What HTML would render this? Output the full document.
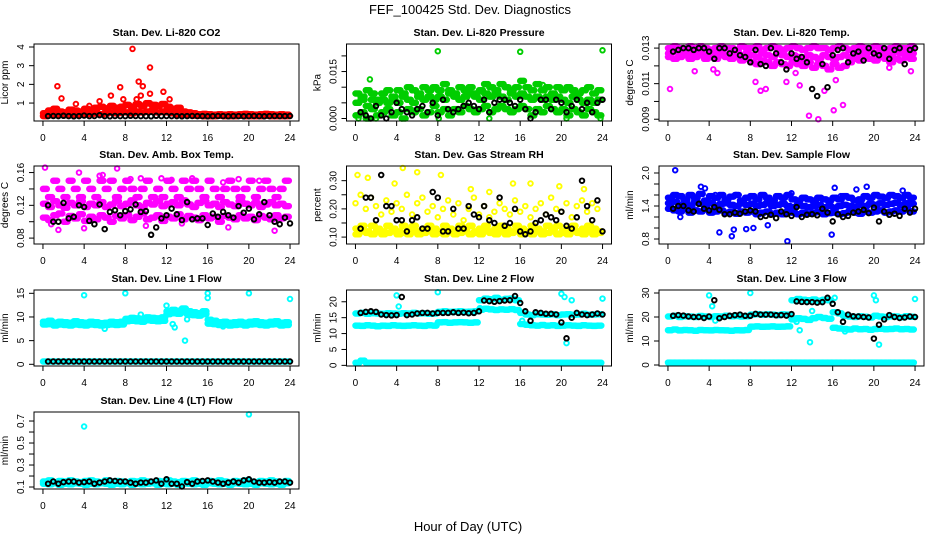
<!DOCTYPE html>
<html><head><meta charset="utf-8"><title>FEF_100425 Std. Dev. Diagnostics</title>
<style>
html,body{margin:0;padding:0;background:#fff;}
svg{display:block;font-family:"Liberation Sans",Arial,sans-serif;}
</style></head>
<body>
<svg id="chart" width="936" height="540" viewBox="0 0 936 540" xmlns="http://www.w3.org/2000/svg">
<rect x="0" y="0" width="936" height="540" fill="#fff"/>
<text x="470" y="14" font-size="13" text-anchor="middle">FEF_100425  Std. Dev. Diagnostics</text>
<text x="468" y="531" font-size="13" text-anchor="middle">Hour of Day (UTC)</text>
</svg>
<script>
const HOURS=[0,0.5,1,1.5,2,2.5,3,3.5,4,4.5,5,5.5,6,6.5,7,7.5,8,8.5,9,9.5,10,10.5,11,11.5,12,12.5,13,13.5,14,14.5,15,15.5,16,16.5,17,17.5,18,18.5,19,19.5,20,20.5,21,21.5,22,22.5,23,23.5];
const HOURS_B=[0.5,1,1.5,2,2.5,3,3.5,4,4.5,5,5.5,6,6.5,7,7.5,8,8.5,9,9.5,10,10.5,11,11.5,12,12.5,13,13.5,14,14.5,15,15.5,16,16.5,17,17.5,18,18.5,19,19.5,20,20.5,21,21.5,22,22.5,23,23.5,24];
const X_TICKS=[0,4,8,12,16,20,24];

// Li-820 CO2
const co2Hi=[0.45,0.6,0.7,0.55,0.5,0.65,0.6,0.55,0.7,0.65,0.75,0.8,0.7,0.85,0.75,0.8,0.9,0.8,0.95,0.85,1.0,0.9,0.85,0.95,0.8,0.7,0.75,0.55,0.5,0.45,0.4,0.42,0.4,0.38,0.4,0.38,0.4,0.38,0.4,0.42,0.4,0.38,0.4,0.42,0.4,0.38,0.4,0.38];
const co2Lo=[0.3,0.35,0.35,0.4,0.35,0.38,0.4,0.38,0.4,0.42,0.45,0.4,0.45,0.5,0.45,0.5,0.5,0.45,0.55,0.5,0.55,0.6,0.5,0.55,0.5,0.45,0.4,0.38,0.35,0.33,0.32,0.3,0.3,0.3,0.32,0.3,0.3,0.3,0.32,0.3,0.3,0.3,0.3,0.32,0.3,0.3,0.3,0.3];
const co2OutX=[1.4,1.8,3.2,5.5,6.6,7.5,7.8,8.7,9.1,9.3,9.5,9.7,10.4,10.4,11.7,12.3,4.5,6.0,11.0];
const co2OutY=[1.9,1.25,0.95,1.1,1.4,1.85,1.2,3.9,1.2,2.15,1.4,1.9,2.9,1.5,1.6,1.2,0.85,0.75,0.9];
const co2Black=[0.3,0.31,0.3,0.32,0.3,0.29,0.3,0.33,0.3,0.31,0.35,0.3,0.29,0.31,0.3,0.3,0.32,0.31,0.3,0.3,0.29,0.32,0.3,0.31,0.3,0.3,0.29,0.3,0.31,0.3,0.3,0.29,0.3,0.31,0.3,0.29,0.3,0.3,0.29,0.3,0.31,0.3,0.29,0.3,0.31,0.3,0.3,0.31];

// Li-820 Pressure
const pHi=[0.008,0.007,0.009,0.008,0.006,0.008,0.009,0.007,0.009,0.008,0.010,0.009,0.008,0.010,0.009,0.010,0.009,0.011,0.009,0.008,0.010,0.009,0.010,0.008,0.009,0.011,0.010,0.009,0.011,0.010,0.009,0.010,0.012,0.010,0.009,0.011,0.009,0.010,0.008,0.010,0.009,0.010,0.009,0.008,0.009,0.010,0.008,0.009];
const pMid=[0.005,0.006,0.004,0.006,0.005,0.006,0.005,0.006,0.005,0.007,0.006,0.005,0.007,0.006,0.007,0.006,0.007,0.006,0.008,0.007,0.006,0.007,0.008,0.007,0.006,0.008,0.007,0.008,0.007,0.006,0.008,0.007,0.008,0.007,0.006,0.007,0.006,0.007,0.006,0.007,0.006,0.005,0.007,0.006,0.005,0.006,0.005,0.006];
const pLo=[0.001,0.002,0.000,0.003,0.001,0.002,0.003,0.001,0.002,0.000,0.003,0.002,0.003,0.001,0.002,0.004,0.002,0.003,0.001,0.003,0.002,0.004,0.003,0.002,0.003,0.004,0.002,0.003,0.004,0.003,0.002,0.003,0.004,0.003,0.001,0.003,0.002,0.004,0.003,0.002,0.003,0.001,0.003,0.002,0.001,0.003,0.002,0.001];
const pOutX=[8,16,24,1.4,18.2,0.3,2,4.5,8.1,13,20.5,23.8];
const pOutY=[0.0215,0.0213,0.0218,0.0125,0.0107,0.0,0.0,0.0,0.0,0.0,0.0,0.0];
const pBlack=[0.002,0.001,0.000,0.004,0.001,0.000,0.002,0.005,0.003,0.002,0.001,0.003,0.004,0.002,0.005,0.001,0.006,0.003,0.002,0.003,0.004,0.005,0.004,0.003,0.006,0.002,0.005,0.006,0.006,0.005,0.004,0.006,0.003,0.000,0.002,0.006,0.006,0.003,0.006,0.005,0.002,0.004,0.006,0.003,0.005,0.002,0.005,0.006];

// Li-820 Temp
const tTop=[0.0130,0.0131,0.0130,0.0129,0.0131,0.0130,0.0131,0.0130,0.0129,0.0130,0.0131,0.0130,0.0130,0.0129,0.0131,0.0130,0.0130,0.0131,0.0129,0.0130,0.0131,0.0130,0.0129,0.0130,0.0131,0.0130,0.0129,0.0130,0.0131,0.0130,0.0130,0.0129,0.0130,0.0131,0.0130,0.0129,0.0130,0.0131,0.0130,0.0130,0.0131,0.0130,0.0129,0.0130,0.0131,0.0130,0.0130,0.0131];
const tMid=[0.0127,0.0128,0.0126,0.0128,0.0127,0.0128,0.0127,0.0126,0.0128,0.0127,0.0128,0.0126,0.0127,0.0128,0.0126,0.0127,0.0126,0.0125,0.0127,0.0126,0.0125,0.0127,0.0126,0.0125,0.0126,0.0125,0.0124,0.0126,0.0125,0.0124,0.0126,0.0125,0.0124,0.0125,0.0126,0.0125,0.0127,0.0126,0.0127,0.0128,0.0127,0.0128,0.0127,0.0126,0.0128,0.0127,0.0128,0.0127];
const tLo=[0.0125,0.0124,0.0125,0.0126,0.0124,0.0125,0.0126,0.0124,0.0125,0.0124,0.0126,0.0125,0.0124,0.0125,0.0123,0.0124,0.0122,0.0121,0.0123,0.0122,0.0120,0.0122,0.0121,0.0120,0.0122,0.0121,0.0120,0.0122,0.0119,0.0121,0.0120,0.0118,0.0121,0.0119,0.0120,0.0122,0.0124,0.0123,0.0125,0.0124,0.0123,0.0125,0.0124,0.0122,0.0124,0.0123,0.0125,0.0124];
const tOutX=[0.2,2.6,4.4,4.8,8.5,9.0,9.5,11.5,12.4,12.8,13.7,14.6,15.2,16.1,16.3,17.0,23.6,21.5];
const tOutY=[0.0107,0.0117,0.0118,0.0116,0.0111,0.0106,0.0107,0.0111,0.0116,0.0109,0.0092,0.0090,0.0106,0.0095,0.0112,0.0098,0.0117,0.0119];
const tBlack=[0.0128,0.0129,0.0130,0.0130,0.0129,0.0130,0.0130,0.0128,0.0124,0.0130,0.0130,0.0127,0.0129,0.0126,0.0125,0.0122,0.0129,0.0121,0.0120,0.0130,0.0127,0.0122,0.0118,0.0127,0.0124,0.0125,0.0122,0.0107,0.0103,0.0121,0.0108,0.0126,0.0129,0.0130,0.0122,0.0127,0.0128,0.0123,0.0130,0.0127,0.0126,0.0130,0.0124,0.0129,0.0130,0.0121,0.0129,0.0130];

// Amb. Box Temp
const aHi=[0.14,0.13,0.15,0.14,0.13,0.15,0.14,0.13,0.15,0.14,0.13,0.15,0.14,0.15,0.13,0.14,0.15,0.14,0.13,0.14,0.15,0.13,0.14,0.13,0.15,0.14,0.13,0.15,0.14,0.15,0.14,0.13,0.15,0.14,0.13,0.14,0.15,0.14,0.13,0.14,0.15,0.13,0.14,0.15,0.14,0.13,0.14,0.15];
const aMid=[0.122,0.118,0.125,0.12,0.117,0.123,0.12,0.125,0.118,0.122,0.12,0.124,0.118,0.121,0.125,0.119,0.122,0.126,0.12,0.118,0.123,0.121,0.125,0.119,0.122,0.124,0.12,0.126,0.121,0.118,0.123,0.125,0.12,0.122,0.118,0.124,0.121,0.119,0.125,0.122,0.12,0.123,0.118,0.121,0.124,0.12,0.122,0.119];
const aLo=[0.105,0.102,0.108,0.11,0.1,0.107,0.104,0.109,0.101,0.106,0.103,0.108,0.105,0.1,0.107,0.104,0.108,0.102,0.106,0.11,0.103,0.105,0.108,0.101,0.106,0.104,0.109,0.103,0.107,0.105,0.102,0.108,0.104,0.106,0.1,0.107,0.105,0.103,0.108,0.104,0.106,0.102,0.107,0.105,0.103,0.108,0.104,0.106];
const aOutX=[0.2,3.5,5.5,5.8,7.2,8.5,9.5,11.5,12.5,14.5,17.5,19,21,0.8,1.5,4,10,13.5,18,22.5];
const aOutY=[0.166,0.16,0.156,0.157,0.165,0.152,0.153,0.153,0.151,0.153,0.148,0.152,0.15,0.097,0.09,0.092,0.095,0.098,0.093,0.089];
const aBlack=[0.12,0.1,0.1,0.123,0.104,0.106,0.12,0.118,0.101,0.097,0.121,0.091,0.112,0.114,0.108,0.113,0.115,0.121,0.112,0.113,0.084,0.093,0.104,0.108,0.116,0.109,0.102,0.124,0.103,0.104,0.104,0.096,0.11,0.106,0.112,0.108,0.105,0.119,0.111,0.116,0.103,0.109,0.124,0.108,0.1,0.097,0.105,0.098];

// Gas Stream RH
const rLo=[0.13,0.14,0.12,0.14,0.13,0.12,0.14,0.13,0.12,0.14,0.13,0.14,0.12,0.13,0.14,0.13,0.12,0.14,0.13,0.12,0.14,0.13,0.14,0.12,0.13,0.14,0.12,0.13,0.14,0.13,0.12,0.14,0.13,0.12,0.14,0.13,0.12,0.14,0.13,0.14,0.12,0.13,0.14,0.12,0.13,0.14,0.13,0.12];
const rLo2=[0.11,0.12,0.115,0.11,0.12,0.11,0.115,0.12,0.11,0.115,0.11,0.12,0.11,0.115,0.12,0.11,0.115,0.11,0.12,0.11,0.115,0.12,0.11,0.115,0.11,0.12,0.115,0.11,0.12,0.11,0.115,0.12,0.11,0.115,0.11,0.12,0.11,0.115,0.12,0.11,0.115,0.11,0.12,0.115,0.11,0.12,0.11,0.115];
const rHi=[0.22,0.25,0.2,0.24,0.21,0.18,0.23,0.19,0.22,0.2,0.25,0.18,0.22,0.24,0.19,0.21,0.17,0.2,0.23,0.18,0.22,0.16,0.2,0.24,0.18,0.21,0.17,0.19,0.22,0.2,0.18,0.23,0.19,0.21,0.17,0.2,0.22,0.18,0.24,0.2,0.19,0.22,0.17,0.21,0.23,0.19,0.22,0.2];
const rOutX=[0.2,1.2,3.8,4.6,6,8.3,11.2,15.3,19.8,22.2,13,17];
const rOutY=[0.32,0.31,0.29,0.345,0.33,0.32,0.27,0.29,0.28,0.27,0.26,0.29];
const rBlack=[0.13,0.24,0.24,0.16,0.32,0.21,0.21,0.16,0.16,0.12,0.16,0.17,0.13,0.13,0.26,0.24,0.12,0.12,0.20,0.13,0.13,0.21,0.18,0.17,0.21,0.16,0.15,0.24,0.14,0.15,0.20,0.12,0.11,0.12,0.15,0.16,0.18,0.17,0.16,0.19,0.14,0.13,0.17,0.30,0.21,0.16,0.23,0.12];

// Sample Flow
const sHi=[1.55,1.6,1.58,1.52,1.6,1.55,1.62,1.5,1.58,1.55,1.6,1.52,1.57,1.6,1.5,1.55,1.58,1.52,1.6,1.55,1.5,1.58,1.55,1.6,1.52,1.5,1.55,1.52,1.5,1.55,1.52,1.5,1.55,1.52,1.58,1.55,1.5,1.52,1.58,1.55,1.6,1.57,1.55,1.6,1.58,1.55,1.6,1.55];
const sMid=[1.45,1.48,1.42,1.45,1.4,1.47,1.44,1.42,1.46,1.4,1.44,1.45,1.42,1.4,1.45,1.42,1.44,1.4,1.42,1.45,1.4,1.42,1.44,1.4,1.38,1.42,1.4,1.38,1.4,1.42,1.38,1.4,1.37,1.4,1.42,1.4,1.38,1.42,1.4,1.44,1.42,1.45,1.42,1.44,1.46,1.42,1.45,1.44];
const sLo=[1.35,1.32,1.3,1.35,1.28,1.32,1.3,1.34,1.28,1.3,1.32,1.28,1.3,1.26,1.3,1.28,1.3,1.25,1.28,1.3,1.26,1.28,1.25,1.3,1.28,1.25,1.28,1.26,1.28,1.3,1.25,1.27,1.28,1.25,1.27,1.3,1.28,1.26,1.3,1.28,1.3,1.32,1.28,1.3,1.32,1.3,1.34,1.3];
const sOutX=[0.7,1.2,3.2,3.6,5,6.2,6.4,6.6,7.6,11.6,12,16.2,16.8,18.3,19.3,22.8,15.9,8.3,9.7,4.6];
const sOutY=[2.05,1.2,1.75,1.72,0.92,0.85,0.97,1.6,0.98,0.76,1.63,1.73,1.58,1.7,1.75,1.68,0.88,1.0,1.05,1.6];
const sBlack=[1.35,1.4,1.4,1.32,1.3,1.44,1.35,1.32,1.38,1.33,1.25,1.25,1.28,1.26,1.3,1.32,1.3,1.2,1.22,1.24,1.18,1.3,1.25,1.22,1.38,1.2,1.24,1.25,1.23,1.35,1.28,1.12,1.25,1.2,1.22,1.28,1.3,1.33,1.27,1.37,1.12,1.3,1.24,1.26,1.22,1.35,1.28,1.35];

// Line 1 Flow
const l1Band=[9.0,9.2,8.8,9.0,8.9,8.8,9.1,8.9,8.8,9.0,8.9,8.7,8.8,9.0,8.9,9.0,9.6,9.8,9.7,9.6,9.9,9.8,9.7,9.9,11.2,11.5,11.3,11.8,11.2,11.0,10.8,11.2,9.4,9.2,8.9,9.0,8.8,8.9,9.0,8.8,9.0,9.1,8.9,8.8,9.0,9.1,8.8,8.9];
const l1Band2=[8.4,8.5,8.2,8.4,8.3,8.2,8.4,8.3,8.2,8.4,8.3,8.2,8.3,8.4,8.3,8.4,9.1,9.2,9.1,9.0,9.3,9.2,9.1,9.2,10.6,10.8,10.7,11.0,10.5,10.4,10.3,10.6,8.6,8.5,8.3,8.4,8.2,8.3,8.4,8.2,8.4,8.5,8.3,8.2,8.4,8.5,8.2,8.3];
const l1Low=[0.6,0.6,0.6,0.6,0.6,0.6,0.6,0.6,0.6,0.6,0.6,0.6,0.6,0.6,0.6,0.6,0.6,0.6,0.6,0.6,0.6,0.6,0.6,0.6,0.6,0.6,0.6,0.6,0.6,0.6,0.6,0.6,0.6,0.6,0.6,0.6,0.6,0.6,0.6,0.6,0.6,0.6,0.6,0.6,0.6,0.6,0.6,0.6];
const l1OutX=[4,8,16,16,20,24,13.8,12.6,12.8,6,14,17.5,12,9.5];
const l1OutY=[14.6,15,15,14,15,13.8,5,8.5,7.8,7.5,9.5,8,12.4,10.5];
const l1Black=[0.6,0.6,0.6,0.6,0.6,0.6,0.6,0.6,0.6,0.6,0.6,0.6,0.6,0.6,0.6,0.6,0.6,0.6,0.6,0.6,0.6,0.6,0.6,0.6,0.6,0.6,0.6,0.6,0.6,0.6,0.6,0.6,0.6,0.6,0.6,0.6,0.6,0.6,0.6,0.6,0.6,0.6,0.6,0.6,0.6,0.6,0.6,0.6];

// Line 2 Flow
const l2Up=[16.3,16.5,16.2,16.4,16.3,16.2,16.4,16.3,16.2,16.4,16.3,16.5,16.3,16.4,16.2,16.3,16.8,17.0,16.8,16.9,17.0,16.8,16.9,17.0,20.5,21.0,20.8,21.2,20.6,20.9,21.0,20.5,16.5,16.0,15.8,16.1,16.0,15.9,16.1,15.8,16.0,16.1,15.9,16.0,16.2,15.9,16.0,16.1];
const l2Dn=[12.5,12.4,12.6,12.5,12.3,12.5,12.4,12.6,12.5,12.4,12.5,12.6,12.5,12.4,12.6,12.5,13.5,13.6,13.4,13.5,13.6,13.5,13.4,13.5,17.5,17.8,17.6,17.4,17.6,17.5,17.7,17.4,13.0,12.8,12.6,12.5,12.7,12.5,12.6,12.4,12.5,12.6,12.5,12.4,12.6,12.5,12.4,12.5];
const l2Low=[0.8,1.5,0.8,0.8,0.8,0.8,0.8,0.8,0.8,0.8,0.8,0.8,0.8,0.8,0.8,0.8,0.8,0.8,0.8,0.8,0.8,0.8,0.8,0.8,0.8,0.8,0.8,0.8,0.8,0.8,0.8,0.8,0.8,0.8,0.8,0.8,0.8,0.8,0.8,0.8,0.8,0.8,0.8,0.8,0.8,0.8,0.8,0.8];
const l2OutX=[4,4.2,8,20,20.3,20.5,21,24,12.1,16.2];
const l2OutY=[22,18.5,23,22.5,21.5,7,20.5,21,18,14];
const l2Black=[16.5,16.8,17.0,16.8,16.0,15.8,15.7,15.8,21.5,15.8,16.0,16.3,16.5,16.5,16.3,16.5,16.5,16.5,16.7,16.5,16.6,16.4,16.5,17.0,20.4,20.2,20.0,20.2,20.4,20.5,21.8,19.6,17.0,14.0,16.7,16.5,16.2,16.2,16.0,13.5,8.5,15.0,16.5,16.0,15.8,16.0,16.3,16.0];

// Line 3 Flow
const l3Up=[20.2,20.5,20.0,20.3,20.2,20.0,20.4,20.2,20.0,20.3,20.2,20.5,20.3,20.4,20.2,20.3,21.0,21.2,21.0,21.1,21.0,20.8,21.1,21.0,27.0,27.5,27.2,27.0,27.3,26.8,27.2,27.0,22.0,21.5,20.5,20.2,20.0,20.3,20.1,19.8,20.5,20.2,20.0,20.3,20.2,19.9,20.3,20.1];
const l3Dn=[14.5,14.8,14.4,14.6,14.5,14.3,14.6,14.5,14.4,14.6,14.5,14.4,14.3,14.5,14.4,14.6,16.0,16.1,15.9,16.0,16.1,15.9,16.0,16.1,19.0,19.5,19.2,18.8,19.5,20.0,19.6,19.3,15.5,15.2,15.0,14.8,15.2,14.9,15.0,14.7,15.0,15.1,14.9,15.0,15.2,14.9,15.0,14.8];
const l3Low=[1,1,1,1,1,1,1,1,1,1,1,1,1,1,1,1,1,1,1,1,1,1,1,1,1,1,1,1,1,1,1,1,1,1,1,1,1,1,1,1,1,1,1,1,1,1,1,1];
const l3OutX=[4,4.3,8,12.5,12.8,13.8,14,20,20.2,20.5,24,16.2,17.2,4.6];
const l3OutY=[29,24.5,30,18,14.5,9.5,22.5,29,27,8.5,27.5,28,14,18.5];
const l3Black=[20.5,20.8,20.6,20.2,20.0,20.0,19.6,20.2,27.0,19.5,20.0,20.5,20.8,21.0,20.5,20.5,21.3,21.0,21.0,21.0,20.7,20.8,20.6,21.2,26.5,26.3,26.2,26.2,26.0,26.2,28.0,25.5,22.0,18.0,21.0,20.3,20.2,20.0,19.8,11.0,16.8,19.0,20.8,20.0,19.6,19.8,20.2,20.0];

// Line 4 (LT) Flow
const l4Band=[0.15,0.16,0.145,0.155,0.15,0.16,0.15,0.145,0.155,0.16,0.15,0.145,0.16,0.15,0.155,0.15,0.145,0.155,0.15,0.16,0.15,0.145,0.155,0.15,0.16,0.15,0.145,0.155,0.15,0.16,0.15,0.145,0.155,0.15,0.16,0.15,0.145,0.155,0.15,0.16,0.15,0.145,0.155,0.15,0.16,0.15,0.145,0.155];
const l4Band2=[0.13,0.125,0.135,0.12,0.13,0.125,0.135,0.13,0.12,0.13,0.125,0.135,0.13,0.12,0.13,0.125,0.135,0.12,0.13,0.125,0.13,0.135,0.12,0.13,0.125,0.13,0.12,0.135,0.13,0.125,0.13,0.12,0.135,0.13,0.125,0.13,0.12,0.135,0.13,0.125,0.13,0.12,0.135,0.13,0.125,0.13,0.12,0.135];
const l4OutX=[4,20];
const l4OutY=[0.65,0.76];
const l4Black=[0.13,0.15,0.13,0.145,0.15,0.15,0.14,0.145,0.15,0.13,0.14,0.15,0.16,0.155,0.15,0.15,0.14,0.13,0.14,0.14,0.15,0.16,0.13,0.17,0.13,0.13,0.105,0.145,0.13,0.15,0.155,0.16,0.15,0.14,0.13,0.14,0.15,0.14,0.16,0.17,0.15,0.14,0.14,0.145,0.14,0.15,0.15,0.14];

const NS='http://www.w3.org/2000/svg';
const svg=document.getElementById('chart');
function mk(tag,attrs,parent){const e=document.createElementNS(NS,tag);for(const k in attrs)e.setAttribute(k,attrs[k]);(parent||svg).appendChild(e);return e;}

const COL_LEFT=[34,346.5,659];
const BOX_W=265;
const ROW_TOP=[44,166,290,412];
const ROW_BOT=[121,244,366,489];
const XMIN=-0.87,XMAX=24.87;
const DENSE_STEPS=[0,0.125,0.25,0.375];

function panel(cfg){
  const L=COL_LEFT[cfg.col],R=L+BOX_W,T=ROW_TOP[cfg.row],B=ROW_BOT[cfg.row];
  const xs=h=>L+(h-XMIN)/(XMAX-XMIN)*(R-L);
  const ys=v=>B-(v-cfg.ylo)/(cfg.yhi-cfg.ylo)*(B-T);
  const g=mk('g',{});
  
  
  const title=mk('text',{x:(L+R)/2,y:T-8,'font-size':10.5,'font-weight':'bold','text-anchor':'middle'},g);
  title.textContent=cfg.title;
  
  
  const marks=mk('g',{fill:'none','stroke-width':1.9},g);
  
  
  cfg.series.forEach(s=>{
    const steps=s.dense?DENSE_STEPS:[0];
    for(let i=0;i<s.y.length;i++){
      steps.forEach(d=>{
        const hx=Math.min(s.x[i]+d,24);
        const c=mk('circle',{cx:xs(hx).toFixed(1),cy:ys(s.y[i]).toFixed(1),r:2.3,stroke:s.color},marks);
        
        
      });
    }
  });
  const box=mk('rect',{x:L,y:T,width:R-L,height:B-T,fill:'none',stroke:'#000','stroke-width':1},g);
  
  
  const xa=mk('g',{},g);
  
  
  mk('line',{x1:xs(X_TICKS[0]),x2:xs(X_TICKS[X_TICKS.length-1]),y1:B,y2:B,stroke:'#000'},xa);
  X_TICKS.forEach(t=>{
    mk('line',{x1:xs(t),x2:xs(t),y1:B,y2:B+5,stroke:'#000'},xa);
    const tx=mk('text',{x:xs(t),y:B+20,'font-size':10,'text-anchor':'middle'},xa);
    tx.textContent=t;
    
    
  });
  const ya=mk('g',{},g);
  
  
  mk('line',{x1:L,x2:L,y1:ys(cfg.ticks[0]),y2:ys(cfg.ticks[cfg.ticks.length-1]),stroke:'#000'},ya);
  cfg.ticks.forEach((t,i)=>{
    const y=ys(t);
    mk('line',{x1:L-5,x2:L,y1:y,y2:y,stroke:'#000'},ya);
    if(cfg.labels[i]){
      const tx=mk('text',{x:L-10,y:y,'font-size':10,'text-anchor':'middle',transform:'rotate(-90 '+(L-10)+' '+y+')'},ya);
      tx.textContent=cfg.labels[i];
      
      
    }
  });
  const yl=mk('text',{x:L-26,y:(T+B)/2,'font-size':10,'text-anchor':'middle',transform:'rotate(-90 '+(L-26)+' '+(T+B)/2+')'},g);
  yl.textContent=cfg.ylab;
  
  
}

const RED='#ff0000',GRN='#00cd00',MAG='#ff00ff',YEL='#ffff00',BLU='#0000ff',CYN='#00ffff',BLK='#000000';

panel({name:'co2',title:'Stan. Dev. Li-820 CO2',col:0,row:0,ylo:0.04,yhi:4.16,ticks:[1,2,3,4],labels:['1','2','3','4'],ylab:'Licor ppm',
  series:[{x:HOURS,y:co2Hi,color:RED,dense:true},{x:HOURS,y:co2Lo,color:RED,dense:true},{x:co2OutX,y:co2OutY,color:RED},{x:HOURS_B,y:co2Black,color:BLK}]});
panel({name:'pressure',title:'Stan. Dev. Li-820 Pressure',col:1,row:0,ylo:-0.0008,yhi:0.0238,ticks:[0,0.005,0.01,0.015,0.02],labels:['0.000','','','0.015',''],ylab:'kPa',
  series:[{x:HOURS,y:pHi,color:GRN,dense:true},{x:HOURS,y:pMid,color:GRN,dense:true},{x:HOURS,y:pLo,color:GRN,dense:true},{x:pOutX,y:pOutY,color:GRN},{x:HOURS_B,y:pBlack,color:BLK}]});
panel({name:'licor-temp',title:'Stan. Dev. Li-820 Temp.',col:2,row:0,ylo:0.0089,yhi:0.01323,ticks:[0.009,0.01,0.011,0.012,0.013],labels:['0.009','','0.011','','0.013'],ylab:'degrees C',
  series:[{x:HOURS,y:tTop,color:MAG,dense:true},{x:HOURS,y:tMid,color:MAG,dense:true},{x:HOURS,y:tLo,color:MAG,dense:true},{x:tOutX,y:tOutY,color:MAG},{x:HOURS_B,y:tBlack,color:BLK}]});
panel({name:'amb-box-temp',title:'Stan. Dev. Amb. Box Temp.',col:0,row:1,ylo:0.0728,yhi:0.168,ticks:[0.08,0.1,0.12,0.14,0.16],labels:['0.08','','0.12','','0.16'],ylab:'degrees C',
  series:[{x:HOURS,y:aHi,color:MAG,dense:true},{x:HOURS,y:aMid,color:MAG,dense:true},{x:HOURS,y:aLo,color:MAG,dense:true},{x:aOutX,y:aOutY,color:MAG},{x:HOURS_B,y:aBlack,color:BLK}]});
panel({name:'gas-rh',title:'Stan. Dev. Gas Stream RH',col:1,row:1,ylo:0.0755,yhi:0.352,ticks:[0.1,0.15,0.2,0.25,0.3],labels:['0.10','','0.20','','0.30'],ylab:'percent',
  series:[{x:HOURS,y:rHi,color:YEL},{x:HOURS,y:rLo,color:YEL,dense:true},{x:HOURS,y:rLo2,color:YEL,dense:true},{x:rOutX,y:rOutY,color:YEL},{x:HOURS_B,y:rBlack,color:BLK}]});
panel({name:'sample-flow',title:'Stan. Dev. Sample Flow',col:2,row:1,ylo:0.709,yhi:2.127,ticks:[0.8,1.0,1.2,1.4,1.6,1.8,2.0],labels:['0.8','','','1.4','','','2.0'],ylab:'ml/min',
  series:[{x:HOURS,y:sHi,color:BLU,dense:true},{x:HOURS,y:sMid,color:BLU,dense:true},{x:HOURS,y:sLo,color:BLU,dense:true},{x:sOutX,y:sOutY,color:BLU},{x:HOURS_B,y:sBlack,color:BLK}]});
panel({name:'line1-flow',title:'Stan. Dev. Line 1 Flow',col:0,row:2,ylo:-0.36,yhi:15.7,ticks:[0,5,10,15],labels:['0','5','10','15'],ylab:'ml/min',
  series:[{x:HOURS,y:l1Band,color:CYN,dense:true},{x:HOURS,y:l1Band2,color:CYN,dense:true},{x:HOURS,y:l1Low,color:CYN,dense:true},{x:l1OutX,y:l1OutY,color:CYN},{x:HOURS_B,y:l1Black,color:BLK}]});
panel({name:'line2-flow',title:'Stan. Dev. Line 2 Flow',col:1,row:2,ylo:-0.2,yhi:23.7,ticks:[0,5,10,15,20],labels:['0','5','10','15','20'],ylab:'ml/min',
  series:[{x:HOURS,y:l2Up,color:CYN,dense:true},{x:HOURS,y:l2Dn,color:CYN,dense:true},{x:HOURS,y:l2Low,color:CYN,dense:true},{x:l2OutX,y:l2OutY,color:CYN},{x:HOURS_B,y:l2Black,color:BLK}]});
panel({name:'line3-flow',title:'Stan. Dev. Line 3 Flow',col:2,row:2,ylo:-0.42,yhi:31.25,ticks:[0,10,20,30],labels:['0','10','20','30'],ylab:'ml/min',
  series:[{x:HOURS,y:l3Up,color:CYN,dense:true},{x:HOURS,y:l3Dn,color:CYN,dense:true},{x:HOURS,y:l3Low,color:CYN,dense:true},{x:l3OutX,y:l3OutY,color:CYN},{x:HOURS_B,y:l3Black,color:BLK}]});
panel({name:'line4-flow',title:'Stan. Dev. Line 4 (LT) Flow',col:0,row:3,ylo:0.082,yhi:0.782,ticks:[0.1,0.2,0.3,0.4,0.5,0.6,0.7],labels:['0.1','','0.3','','0.5','','0.7'],ylab:'ml/min',
  series:[{x:HOURS,y:l4Band,color:CYN,dense:true},{x:HOURS,y:l4Band2,color:CYN,dense:true},{x:l4OutX,y:l4OutY,color:CYN},{x:HOURS_B,y:l4Black,color:BLK}]});
</script>
</body></html>
